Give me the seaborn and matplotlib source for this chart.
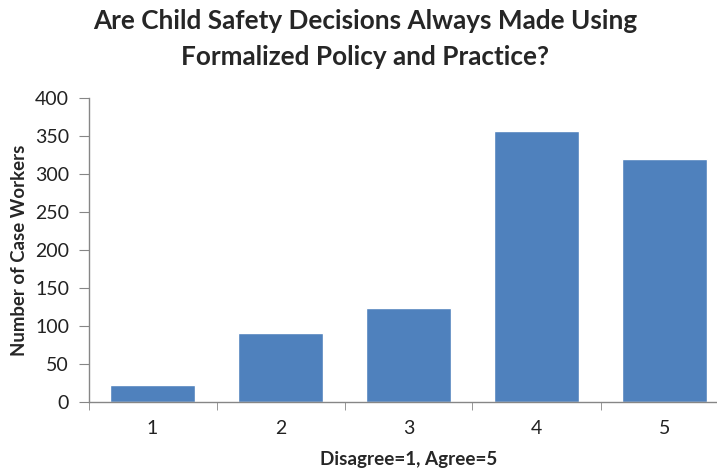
import seaborn as sns
import pandas as pd
import matplotlib.pyplot as plt

# Data
responses = ['1', '2', '3', '4', '5']
counts = [22, 90, 123, 357, 320]

df = pd.DataFrame({'Response': responses, 'Count': counts})

sns.set_style('white')
plt.rcParams['font.family'] = ['Lato', 'DejaVu Sans']

fig = plt.figure(figsize=(7.17, 4.72), dpi=100)
ax = fig.add_axes([88.5 / 717, 70.3 / 472, 640 / 717, 303.4 / 472])

sns.barplot(data=df, x='Response', y='Count', color='#4F81BD',
            width=0.665, saturation=1, ax=ax)

ax.set_ylim(0, 400)
ax.set_xlim(-0.5, 4.5)
ax.set_yticks(range(0, 401, 50))

axis_col = '#868686'
for side in ['top', 'right']:
    ax.spines[side].set_visible(False)
for side in ['left', 'bottom']:
    ax.spines[side].set_color(axis_col)
    ax.spines[side].set_linewidth(1)

# Excel-style ticks: y ticks out to the left, x ticks between categories
ax.tick_params(axis='y', direction='out', length=7, color=axis_col,
               labelsize=14, labelcolor='#222222', pad=7, left=True)
ax.tick_params(axis='x', which='major', length=0, labelsize=14,
               labelcolor='#222222', pad=13)
ax.set_xticks([i - 0.5 for i in range(6)], minor=True)
ax.tick_params(axis='x', which='minor', direction='out', length=6,
               color=axis_col, bottom=True)

ax.set_xlabel('Disagree=1, Agree=5', fontsize=13.6, fontweight='bold', labelpad=10)
ax.set_ylabel('Number of Case Workers', fontsize=13.4, fontweight='bold', labelpad=5)

fig.suptitle('Are Child Safety Decisions Always Made Using\nFormalized Policy and Practice?',
             x=365 / 717, y=0.98, fontsize=18.8, fontweight='bold', linespacing=1.6)

fig.savefig('out.png', dpi=100)
